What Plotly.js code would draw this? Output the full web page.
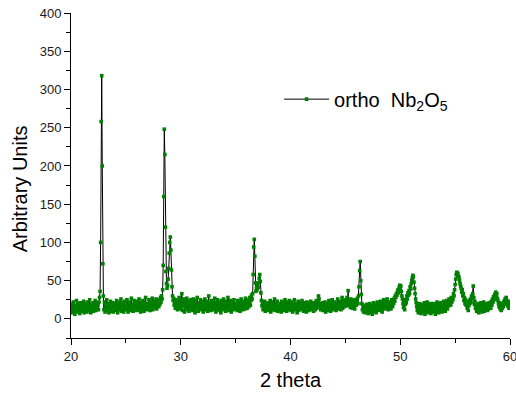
<!DOCTYPE html>
<html>
<head>
<meta charset="utf-8">
<script src="https://cdn.plot.ly/plotly-3.0.1.min.js"></script>
<style>html,body{margin:0;padding:0;background:#fff;}#chart{width:516px;height:398px;}</style>
</head>
<body>
<div id="chart"></div>
<script>
// 2 theta grid: 20.00 to 60.00 degrees, step 0.05
const thetaStart = 20;
const thetaStep = 0.05;
// Intensity (arbitrary units), one row per degree (x.00 ... x.95)
const intensity = [
  14, 8, 19, 12, 22, 10, 16, 6, 18, 13, 24, 9, 15, 20, 11, 17, 7, 21, 13, 16,            // 20
  10, 19, 14, 23, 8, 15, 12, 20, 17, 9, 22, 13, 18, 11, 25, 14, 8, 19, 16, 12,           // 21
  21, 10, 17, 14, 24, 11, 16, 20, 13, 18, 12, 22, 28, 36, 100, 258, 318, 200, 72, 30,    // 22
  12, 22, 9, 18, 14, 25, 11, 16, 20, 8, 19, 13, 23, 10, 17, 15, 21, 9, 18, 14,           // 23
  20, 11, 16, 24, 13, 8, 19, 15, 22, 12, 17, 26, 10, 18, 14, 21, 9, 16, 23, 13,          // 24
  18, 12, 25, 15, 9, 20, 14, 22, 11, 17, 27, 13, 19, 10, 16, 24, 12, 21, 15, 18,         // 25
  11, 23, 14, 19, 26, 12, 17, 9, 21, 16, 13, 24, 18, 10, 22, 15, 28, 12, 19, 14,         // 26
  20, 13, 25, 16, 11, 22, 18, 14, 27, 12, 19, 23, 15, 21, 17, 26, 13, 24, 18, 22,        // 27
  16, 25, 19, 28, 22, 30, 26, 38, 70, 160, 248, 215, 120, 62, 46, 40, 44, 52, 66, 86,    // 28
  100, 107, 90, 64, 42, 30, 24, 27, 18, 22, 14, 25, 16, 20, 12, 23, 17, 28, 13, 19,      // 29
  24, 15, 33, 11, 20, 17, 26, 9, 22, 14, 19, 27, 12, 18, 23, 10, 21, 16, 25, 13,         // 30
  18, 22, 11, 26, 15, 20, 8, 24, 17, 13, 28, 16, 10, 21, 19, 14, 25, 12, 18, 23,         // 31
  15, 9, 21, 17, 26, 12, 19, 14, 23, 10, 18, 30, 13, 20, 16, 11, 24, 15, 19, 22,         // 32
  12, 18, 27, 14, 9, 21, 16, 25, 13, 19, 11, 22, 17, 8, 24, 15, 20, 12, 26, 14,          // 33
  19, 23, 10, 16, 21, 13, 28, 15, 11, 20, 17, 24, 9, 18, 14, 22, 12, 25, 16, 19,         // 34
  13, 20, 17, 11, 24, 15, 19, 22, 10, 18, 26, 14, 21, 12, 16, 23, 19, 13, 27, 17,        // 35
  22, 14, 19, 25, 16, 21, 28, 18, 24, 31, 26, 33, 58, 94, 104, 82, 47, 36, 40, 38,       // 36
  44, 41, 47, 53, 58, 49, 34, 24, 17, 21, 12, 19, 15, 23, 10, 18, 14, 20, 11, 16,        // 37
  21, 13, 17, 24, 9, 19, 15, 22, 12, 18, 14, 26, 11, 16, 20, 13, 23, 10, 17, 15,         // 38
  12, 20, 16, 9, 23, 14, 18, 11, 21, 15, 25, 13, 17, 10, 19, 22, 12, 16, 24, 14,         // 39
  18, 11, 22, 15, 9, 19, 13, 25, 16, 12, 20, 14, 8, 17, 23, 11, 18, 15, 21, 13,          // 40
  16, 24, 12, 19, 10, 15, 21, 13, 17, 9, 22, 14, 18, 11, 20, 16, 12, 23, 15, 19,         // 41
  13, 17, 10, 21, 15, 12, 19, 24, 14, 18, 22, 30, 26, 16, 20, 12, 17, 14, 21, 11,        // 42
  15, 19, 12, 22, 9, 17, 14, 20, 11, 16, 24, 13, 18, 10, 21, 15, 25, 12, 19, 17,         // 43
  14, 22, 18, 11, 20, 16, 26, 13, 19, 23, 15, 21, 12, 17, 28, 14, 20, 24, 16, 22,        // 44
  19, 25, 17, 28, 21, 37, 24, 18, 22, 15, 26, 19, 23, 14, 21, 17, 25, 13, 20, 24,        // 45
  18, 22, 27, 20, 30, 42, 63, 75, 50, 32, 20, 12, 18, 9, 15, 11, 17, 8, 14, 19,          // 46
  10, 16, 7, 13, 20, 9, 15, 11, 18, 6, 14, 21, 10, 17, 12, 19, 8, 15, 22, 13,            // 47
  16, 11, 19, 14, 23, 12, 18, 9, 21, 15, 25, 13, 20, 17, 22, 14, 26, 18, 12, 20,         // 48
  15, 22, 18, 13, 25, 19, 16, 24, 20, 27, 23, 30, 28, 33, 31, 36, 38, 34, 41, 44,        // 49
  40, 43, 36, 30, 26, 20, 15, 23, 12, 19, 25, 21, 30, 26, 34, 31, 37, 33, 42, 39,        // 50
  46, 50, 54, 57, 55, 48, 40, 33, 26, 21, 16, 11, 18, 8, 14, 20, 10, 16, 7, 13,          // 51
  19, 9, 15, 12, 21, 6, 14, 17, 10, 22, 13, 8, 18, 11, 16, 20, 7, 14, 10, 17,            // 52
  12, 20, 9, 15, 6, 18, 13, 22, 10, 16, 8, 19, 14, 11, 21, 15, 9, 17, 12, 23,            // 53
  14, 18, 10, 21, 15, 24, 13, 19, 17, 26, 20, 23, 18, 28, 22, 27, 25, 33, 30, 38,        // 54
  45, 52, 58, 61, 60, 59, 56, 54, 50, 46, 43, 40, 35, 38, 30, 33, 24, 28, 20, 25,        // 55
  18, 22, 14, 19, 11, 17, 24, 20, 26, 22, 30, 27, 33, 43, 28, 19, 23, 14, 18, 10,        // 56
  16, 12, 20, 8, 15, 18, 11, 21, 13, 9, 17, 14, 22, 10, 16, 19, 12, 15, 20, 11,          // 57
  17, 13, 21, 15, 19, 14, 23, 18, 26, 22, 29, 25, 32, 28, 35, 30, 33, 27, 24, 20,        // 58
  16, 21, 13, 18, 11, 17, 14, 20, 16, 23, 19, 26, 22, 28, 24, 21, 17, 23, 14, 19,        // 59
  16                                                                                     // 60.00
];
const seriesName = 'ortho\u00a0 Nb<sub>2</sub>O<sub>5</sub>';
const xTitle = '2 theta';
const yTitle = 'Arbitrary Units';
const xTickVals = [20, 30, 40, 50, 60];
const yTickVals = [0, 50, 100, 150, 200, 250, 300, 350, 400];

const twoTheta = intensity.map((_, i) => +(thetaStart + i * thetaStep).toFixed(2));

const trace = {
  x: twoTheta,
  y: intensity,
  type: 'scatter',
  mode: 'lines+markers',
  name: seriesName,
  line: {color: '#000000', width: 1},
  marker: {color: '#008000', size: 3.6, symbol: 'square', line: {width: 0}}
};

const fontFam = '"Liberation Sans", Arial, sans-serif';
const layout = {
  width: 516, height: 398,
  margin: {l: 71, r: 6, t: 13, b: 60},
  paper_bgcolor: '#ffffff', plot_bgcolor: '#ffffff',
  font: {family: fontFam, color: '#000000', size: 13},
  showlegend: true,
  legend: {x: 0.474, y: 0.735, xanchor: 'left', yanchor: 'middle', itemwidth: 45,
           bgcolor: 'rgba(0,0,0,0)', font: {family: fontFam, size: 20, color: '#000'}},
  xaxis: {
    range: [20, 60], tickmode: 'array', tickvals: xTickVals, ticktext: xTickVals.map(String),
    ticklabeloverflow: 'allow',
    showgrid: false, zeroline: false,
    showline: true, linecolor: '#000', linewidth: 1,
    ticks: 'outside', ticklen: 6, tickwidth: 1, tickcolor: '#000',
    minor: {dtick: 5, tick0: 20, ticks: 'outside', ticklen: 4, tickcolor: '#000', showgrid: false},
    tickfont: {size: 13, color: '#1a1a1a'},
    title: {text: xTitle, font: {size: 20, color: '#000'}, standoff: 10}
  },
  yaxis: {
    range: [-25, 400], tickmode: 'array', tickvals: yTickVals, ticktext: yTickVals.map(String),
    showgrid: false, zeroline: false,
    showline: true, linecolor: '#000', linewidth: 1,
    ticks: 'outside', ticklen: 6, tickwidth: 1, tickcolor: '#000',
    minor: {dtick: 25, tick0: 0, ticks: 'outside', ticklen: 4, tickcolor: '#000', showgrid: false},
    tickfont: {size: 13, color: '#1a1a1a'}
  },
  annotations: [{
    text: yTitle, textangle: -90, showarrow: false,
    xref: 'paper', yref: 'paper', x: -0.116, y: 0.458,
    xanchor: 'center', yanchor: 'middle',
    font: {family: fontFam, size: 20, color: '#000'}
  }]
};

Plotly.newPlot('chart', [trace], layout, {displayModeBar: false, staticPlot: true});
</script>
</body>
</html>
